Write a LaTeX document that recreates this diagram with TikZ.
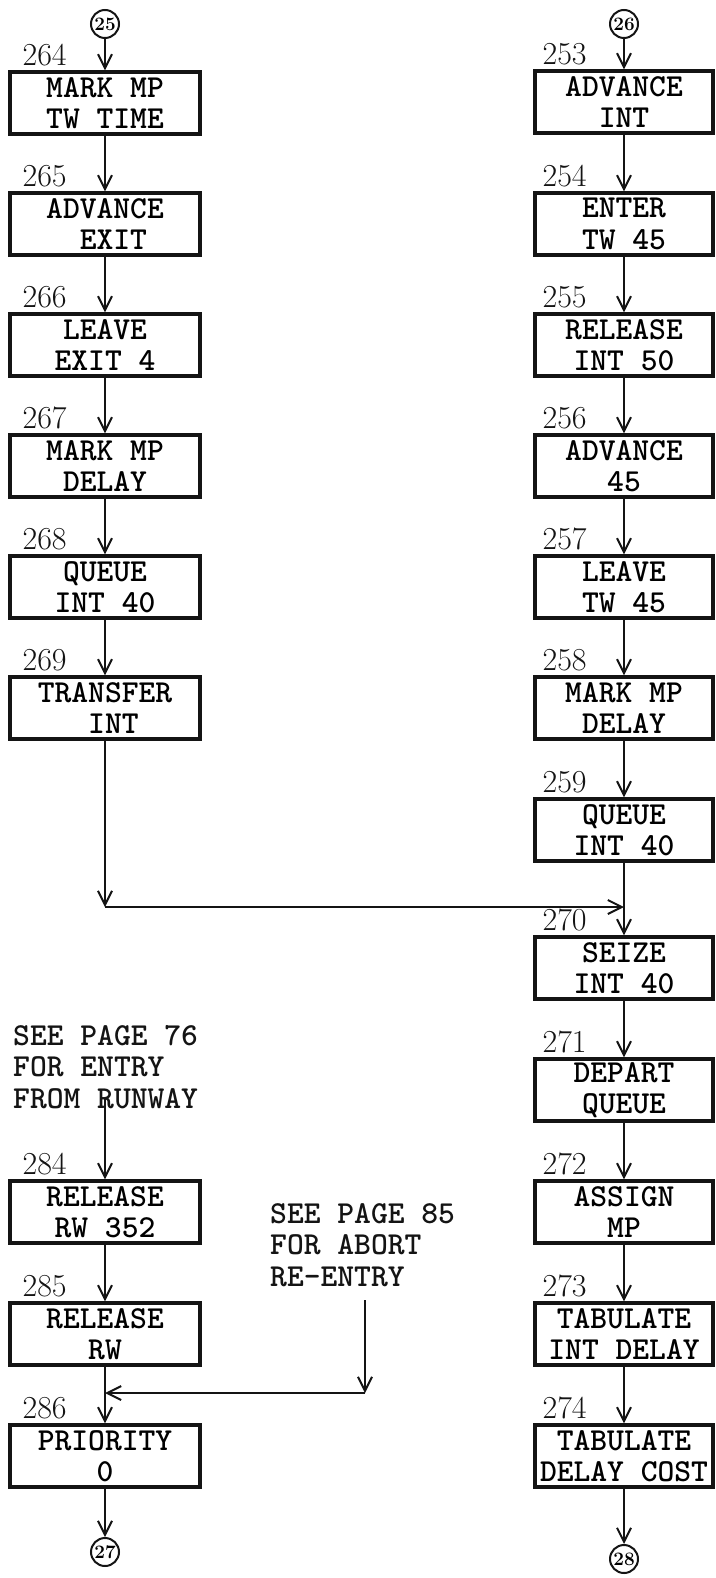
\documentclass[tikz,border=0pt]{standalone}
\usepackage{tikz}
\usetikzlibrary{arrows.meta,positioning,calc}
\definecolor{ink}{HTML}{141414}
\newcommand{\typed}{\ttfamily\bfseries\fontsize{32}{31.5}\selectfont}

\begin{document}
\begin{tikzpicture}[x=1pt,y=-1pt,
  blk/.style={draw=ink, line width=3.2pt, minimum height=62pt, inner sep=0pt,
              align=center, font=\typed},
  lblk/.style={blk, minimum width=190pt},
  rblk/.style={blk, minimum width=178pt},
  num/.style={anchor=south west, inner sep=0pt, font=\fontsize{32}{32}\selectfont, ink},
  note/.style={anchor=north west, inner sep=0pt, align=left, font=\typed, ink},
  pagecirc/.style={circle, draw=ink, line width=2pt, minimum size=28pt, inner sep=0pt,
                   font=\bfseries\fontsize{19}{19}\selectfont},
  arr/.style={draw=ink, line width=2pt, -{Straight Barb[length=14pt,width=14pt]}}]
\useasboundingbox (0,0) rectangle (715,1578);

% off-page connectors
\node[pagecirc] (n25) at (105,24) {25};
\node[pagecirc] (n26) at (624,24) {26};
\node[pagecirc] (n27) at (105,1552) {27};
\node[pagecirc] (n28) at (624,1559) {28};

% left column, top
\foreach \n/\y/\txt [remember=\n as \prev (initially 25)] in {
    264/103/{MARK MP\\TW TIME},
    265/224/{ADVANCE\\\hphantom{X}EXIT},
    266/345/{LEAVE\\EXIT 4},
    267/466/{MARK MP\\DELAY},
    268/587/{QUEUE\\INT 40},
    269/708/{TRANSFER\\\hphantom{X}INT}}{
  \node[lblk] (n\n) at (105,\y) {\txt};
  \node[num] at ([xshift=14pt,yshift=4pt]n\n.north west) {\n};
  \draw[arr] (n\prev) -- (n\n);
}

% right column
\foreach \n/\y/\txt [remember=\n as \prev (initially 26)] in {
    253/102/{ADVANCE\\INT},
    254/224/{ENTER\\TW 45},
    255/345/{RELEASE\\INT 50},
    256/466/{ADVANCE\\45},
    257/587/{LEAVE\\TW 45},
    258/708/{MARK MP\\DELAY},
    259/830/{QUEUE\\INT 40},
    270/968/{SEIZE\\INT 40},
    271/1090/{DEPART\\QUEUE},
    272/1212/{ASSIGN\\MP},
    273/1334/{TABULATE\\INT DELAY},
    274/1456/{TABULATE\\DELAY COST}}{
  \node[rblk] (n\n) at (624,\y) {\txt};
  \node[num] at ([xshift=9pt,yshift=4pt]n\n.north west) {\n};
  \draw[arr] (n\prev) -- (n\n);
}
\draw[arr] (n274) -- (n28);

% transfer into 270
\coordinate (j1) at (105,907);
\draw[arr] (n269) -- (j1);
\draw[arr] (j1) -- (j1 -| n259);

% left column, bottom
\node[note] (t76) at (13,1025) {SEE PAGE 76\\FOR ENTRY\\FROM RUNWAY};
\coordinate (n76) at (105,1098);
\foreach \n/\y/\txt [remember=\n as \prev (initially 76)] in {
    284/1212/{RELEASE\\RW 352},
    285/1334/{RELEASE\\RW},
    286/1456/{PRIORITY\\0}}{
  \node[lblk] (n\n) at (105,\y) {\txt};
  \node[num] at ([xshift=14pt,yshift=4pt]n\n.north west) {\n};
  \draw[arr] (n\prev) -- (n\n);
}
\draw[arr] (n286) -- (n27);

% abort re-entry
\node[note] (t85) at (270,1203) {SEE PAGE 85\\FOR ABORT\\RE-ENTRY};
\coordinate (s85) at (365,1300);
\coordinate (j2) at (365,1393);
\draw[arr] (s85) -- (j2);
\draw[arr] (j2) -- (j2 -| n285);
\end{tikzpicture}
\end{document}
